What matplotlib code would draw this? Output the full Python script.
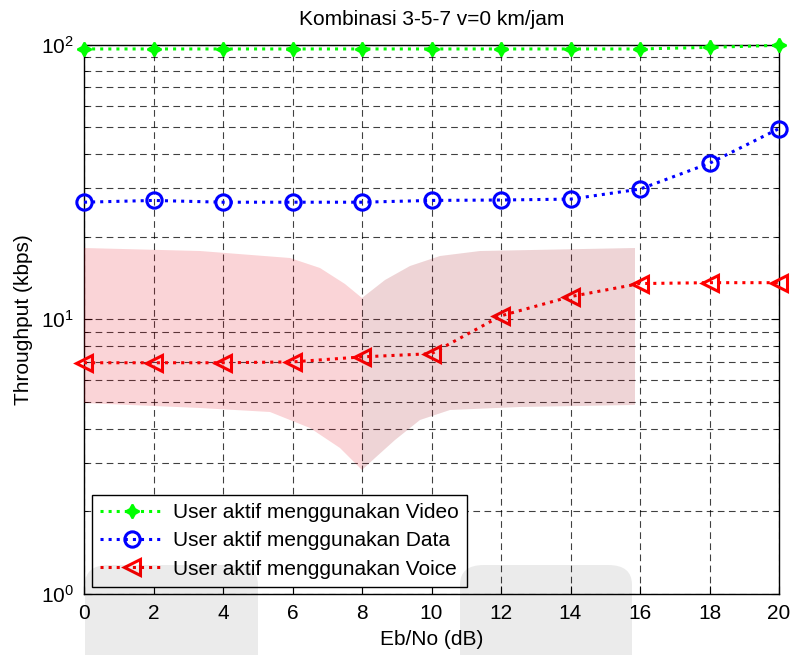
import matplotlib
matplotlib.use("Agg")
import matplotlib.pyplot as plt
from matplotlib.patches import Polygon, FancyBboxPatch
from matplotlib.ticker import LogLocator, NullFormatter, FixedLocator

plt.rcParams['font.family'] = ['Liberation Sans', 'DejaVu Sans']

ebno = [0, 2, 4, 6, 8, 10, 12, 14, 16, 18, 20]
video = [96.5, 96.5, 96.5, 96.5, 96.5, 96.5, 96.5, 96.5, 96.5, 97.8, 99.5]
data = [26.7, 27.1, 26.7, 26.7, 26.7, 27.1, 27.2, 27.4, 29.8, 37.0, 49.5]
voice = [6.95, 6.95, 6.95, 7.0, 7.3, 7.5, 10.3, 12.1, 13.5, 13.6, 13.6]
labels = ['User aktif menggunakan Video', 'User aktif menggunakan Data',
          'User aktif menggunakan Voice']
xticks = [0, 2, 4, 6, 8, 10, 12, 14, 16, 18, 20]

W, H = 790, 655
FS = 15
fig = plt.figure(figsize=(W / 100, H / 100), dpi=100)
fig.patch.set_facecolor('white')

def px(pts):
    return [(x / W, 1 - y / H) for x, y in pts]

ax = fig.add_axes([84 / W, 1 - 594 / H, (779 - 84) / W, (594 - 44.7) / H])
ax.set_facecolor('white')

ax.semilogy(ebno, video, linestyle=':', color='#00ff00', lw=2.2, marker=(4, 1, 0),
            ms=10, mew=1.5, label=labels[0], clip_on=False, zorder=5)
ax.semilogy(ebno, data, linestyle=':', color='#0000ff', lw=2.2, marker='o',
            ms=11, mew=2.2, mfc='none', label=labels[1], clip_on=False, zorder=4)
ax.semilogy(ebno, voice, linestyle=':', color='#ff0000', lw=2.2, marker='<',
            ms=12, mew=2.2, mfc='none', label=labels[2], clip_on=False, zorder=4)

ax.set_xlim(0, 20)
ax.set_ylim(1, 100)
ax.xaxis.set_major_locator(FixedLocator(xticks))
ax.yaxis.set_major_locator(LogLocator(base=10))
ax.yaxis.set_minor_locator(LogLocator(base=10, subs=range(2, 10)))
ax.yaxis.set_minor_formatter(NullFormatter())
ax.grid(True, which='both', axis='y', linestyle=(0, (6, 4)), color='black', lw=0.8, alpha=0.75)
ax.grid(True, which='major', axis='x', linestyle=(0, (6, 4)), color='black', lw=0.8, alpha=0.75)
ax.tick_params(which='both', direction='in', top=True, right=True, labelsize=FS)
ax.tick_params(which='major', length=6, pad=7)
ax.tick_params(which='minor', length=3)
for s in ax.spines.values():
    s.set_linewidth(1.0)

ax.set_title('Kombinasi 3-5-7 v=0 km/jam', fontsize=FS, pad=14)
ax.set_xlabel('Eb/No (dB)', fontsize=FS, labelpad=5)
ax.set_ylabel('Throughput (kbps)', fontsize=FS, labelpad=6)

leg = ax.legend(loc='lower left', bbox_to_anchor=((92 - 84) / 695, (594 - 587) / 549.3),
                borderaxespad=0, fontsize=FS,
                frameon=True, fancybox=False, edgecolor='black', framealpha=1,
                handlelength=3.0, borderpad=0.4, labelspacing=0.45, handletextpad=0.5)
leg.get_frame().set_linewidth(1.0)

# watermark overlay (semi-transparent decoration on top)
for x0, x1 in [(85, 258), (460, 632)]:
    fig.add_artist(FancyBboxPatch((x0 / W, -0.05), (x1 - x0) / W, (655 - 565) / H + 0.05,
                                  boxstyle='round,pad=0,rounding_size=0.03',
                                  transform=fig.transFigure, facecolor='black', alpha=0.08,
                                  edgecolor='none', zorder=10))
left_pink = [(84, 248), (200, 251), (290, 258), (320, 268), (345, 284), (362, 298),
             (362, 470), (340, 448), (310, 428), (270, 412), (200, 408), (84, 403)]
right_pink = [(362, 298), (385, 280), (410, 266), (440, 256), (480, 251), (635, 248),
              (635, 405), (520, 407), (450, 410), (420, 420), (395, 440), (375, 458), (362, 470)]
fig.add_artist(Polygon(px(left_pink), closed=True, transform=fig.transFigure,
                       facecolor=(230 / 255, 0, 20 / 255), alpha=0.17, edgecolor='none', zorder=10))
fig.add_artist(Polygon(px(right_pink), closed=True, transform=fig.transFigure,
                       facecolor=(160 / 255, 0, 15 / 255), alpha=0.17, edgecolor='none', zorder=10))

fig.savefig('out.png', dpi=100)
